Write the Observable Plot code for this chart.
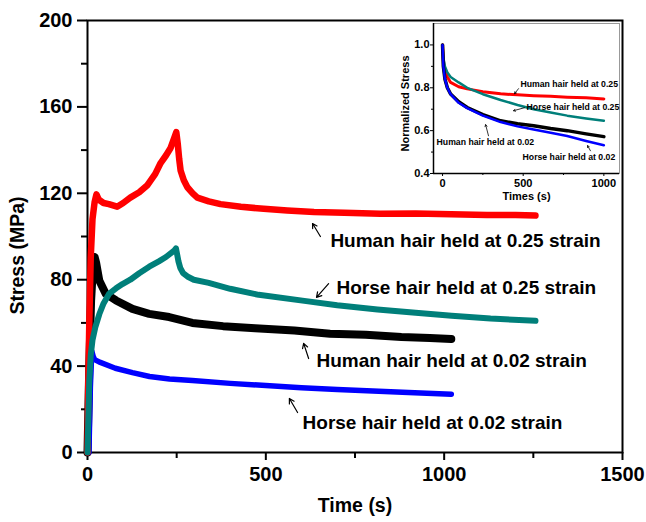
<!DOCTYPE html>
<html><head><meta charset="utf-8">
<script src="https://cdn.jsdelivr.net/npm/d3@7"></script>
<script src="https://cdn.jsdelivr.net/npm/@observablehq/plot@0.6"></script>
<style>
body{margin:0;background:#fff;}
#wrap{position:relative;width:646px;height:522px;}
#inset{position:absolute;left:395px;top:18px;}
</style></head><body><div id="wrap"><div id="main"></div><div id="inset"></div></div>
<script>
// ---------- main chart data: time (s) and stress (MPa) ----------
const humanHighT = [0,2,5,9,14,20,25,32,45,60,83,100,120,145,167,190,205,220,233,244,249,253,257,261,270,280,295,308,340,373,430,494,560,635,720,821,920,1020,1120,1200,1256];
const humanHighS = [0,30,60,90,108,116,119.5,117,115.5,115,113.8,115.5,118,120.5,123.6,129,134,137.5,141,146,148.3,143,136,130.6,126,122.8,120,118,116.3,115,113.8,112.8,112,111.3,111,110.5,110.6,110.3,110,110,109.7];

const horseHighT = [0,3,5,9,14,22,33,45,61,80,98,120,145,173,200,220,243,248,251,255,260,268,280,298,340,400,480,608,700,813,920,1021,1130,1256];
const horseHighS = [0,20,33,45,52,58,64,69,73.6,76,78,80,83,86,88.5,90.5,93.5,94.5,92,88.5,85.5,83,81.5,80,78.5,75.8,73,70.2,68.2,66.2,64.7,63.3,62,61];

const humanLowT = [0,5,10,15,20,24,33,51,80,126,173,229,294,380,470,580,680,780,880,960,1020];
const humanLowS = [0,40,70,85,90.5,88,79.6,73.5,70.4,66.5,64.2,62.7,60,58.5,57.5,56.5,55,54.5,53.5,53,52.5];

const horseLowT = [4,8,12,16,20,36,78,126,174,230,294,400,500,600,700,800,900,1020];
const horseLowS = [0,30,47,44.5,43,41.7,39,37,35.2,34,33.3,32,31,30,29.2,28.5,27.8,27];

const xMajor = [0,500,1000,1500];
const xMinor = [250,750,1250];
const yMajor = [0,40,80,120,160,200];
const yMinor = [20,60,100,140,180];

const mainLabels = ["Human hair held at 0.25 strain","Horse hair held at 0.25 strain","Human hair held at 0.02 strain","Horse hair held at 0.02 strain"];
const mainLabelT = [681,698,642,603];
const mainLabelS = [98,76.4,42.6,13.9];
const mainArrowFrom = [[653,100],[676,78.2],[620,43.5],[589,18.5]];
const mainArrowTo   = [[631,106],[642,71.8],[606,50.5],[566,25]];

// ---------- inset data: relaxation time (s) and normalized stress ----------
const insetT = [0,5,15,30,50,100,153,250,360,465,565,670,773,890,1000];
const insetHumanHigh = [1.0,0.93,0.88,0.85,0.825,0.805,0.795,0.782,0.772,0.767,0.763,0.76,0.756,0.753,0.748];
const insetHorseHigh = [1.0,0.94,0.9,0.872,0.85,0.825,0.80,0.77,0.743,0.72,0.70,0.685,0.67,0.657,0.646];
const insetHumanLow  = [1.0,0.9,0.84,0.8,0.771,0.735,0.708,0.675,0.646,0.632,0.623,0.61,0.60,0.585,0.572];
const insetHorseLow  = [1.0,0.9,0.84,0.8,0.77,0.73,0.705,0.67,0.64,0.62,0.605,0.59,0.575,0.552,0.532];
const insetXTicks = [0,500,1000];
const insetXMinor = [250,750];
const insetYTicks = [0.4,0.6,0.8,1.0];
const insetYMinor = [0.5,0.7,0.9];
const insetLabels = ["Human hair held at 0.25","Horse hair held at 0.25","Human hair held at 0.02","Horse hair held at 0.02"];
const insetLabelT = [483,521,-37,496];
const insetLabelS = [0.817,0.711,0.545,0.478];
const insetArrowFrom = [[471,0.796],[508,0.707],[285,0.576],[917,0.506]];
const insetArrowTo   = [[446,0.772],[440,0.693],[267,0.628],[899,0.53]];

const RED = "#ff0000", TEAL = "#007f7a", BLACK = "#000000", BLUE = "#0000ff";
const FONT = "'Liberation Sans', Arial, sans-serif";

const pts = (T, S) => T.map((t, i) => ({t, s: S[i]}));
const arrows = (F, T) => F.map((f, i) => ({x1: f[0], y1: f[1], x2: T[i][0], y2: T[i][1]}));
const labels = (L, T, S) => L.map((l, i) => ({label: l, t: T[i], s: S[i]}));
const empty = () => "";
const intFmt = d3.format("d");

const main = Plot.plot({
  width: 646, height: 522,
  marginLeft: 87, marginRight: 24, marginTop: 20, marginBottom: 70,
  style: {fontFamily: FONT, fontWeight: "bold", fontSize: "20px", color: "#000", background: "#fff", overflow: "visible"},
  x: {domain: [0, 1500]},
  y: {domain: [0, 200]},
  marks: [
    Plot.axisX({ticks: xMajor, tickSize: 8, tickPadding: 6, tickFormat: intFmt, label: null, fontSize: 20, fontWeight: "bold", strokeWidth: 2}),
    Plot.axisX({ticks: xMinor, tickSize: 6, tickFormat: empty, label: null, strokeWidth: 2}),
    Plot.axisY({ticks: yMajor, tickSize: 10, tickPadding: 5, tickFormat: intFmt, label: null, fontSize: 20, fontWeight: "bold", strokeWidth: 2}),
    Plot.axisY({ticks: yMinor, tickSize: 6, tickFormat: empty, label: null, strokeWidth: 2}),
    Plot.frame({stroke: "#000", strokeWidth: 2}),
    Plot.line(pts(humanLowT, humanLowS), {x: "t", y: "s", stroke: BLACK, strokeWidth: 8, strokeLinejoin: "round"}),
    Plot.line(pts(horseLowT, horseLowS), {x: "t", y: "s", stroke: BLUE, strokeWidth: 5.5, strokeLinejoin: "round"}),
    Plot.line(pts(humanHighT, humanHighS), {x: "t", y: "s", stroke: RED, strokeWidth: 6.5, strokeLinejoin: "round"}),
    Plot.line(pts(horseHighT, horseHighS), {x: "t", y: "s", stroke: TEAL, strokeWidth: 6, strokeLinejoin: "round"}),
    Plot.text(labels(mainLabels, mainLabelT, mainLabelS), {x: "t", y: "s", text: "label", textAnchor: "start", fontSize: 19, fontWeight: "bold", fill: "#000"}),
    Plot.arrow(arrows(mainArrowFrom, mainArrowTo), {x1: "x1", y1: "y1", x2: "x2", y2: "y2", stroke: "#000", strokeWidth: 1.2, headLength: 7}),
    Plot.text(["Stress (MPa)"], {frameAnchor: "left", textAnchor: "middle", dx: -70, dy: 19, rotate: -90, fontSize: 19.5, fontWeight: "bold", fill: "#000"}),
    Plot.text(["Time (s)"], {frameAnchor: "bottom", textAnchor: "middle", dy: 59, fontSize: 19.5, fontWeight: "bold", fill: "#000"})
  ]
});
document.getElementById("main").append(main);

const inset = Plot.plot({
  width: 230, height: 190,
  marginLeft: 38, marginRight: 6, marginTop: 5, marginBottom: 35,
  style: {fontFamily: FONT, fontWeight: "bold", fontSize: "11px", color: "#000", background: "transparent", overflow: "visible"},
  x: {domain: [-56, 1097]},
  y: {domain: [0.4, 1.1]},
  marks: [
    Plot.frame({stroke: "#999", strokeWidth: 1}),
    Plot.ruleX([-56], {stroke: "#000", strokeWidth: 1.5}),
    Plot.ruleY([0.4], {stroke: "#000", strokeWidth: 1.5}),
    Plot.axisX({ticks: insetXTicks, tickSize: 3, tickPadding: 3, tickFormat: intFmt, label: null, fontSize: 11, fontWeight: "bold"}),
    Plot.axisX({ticks: insetXMinor, tickSize: 2, tickFormat: empty, label: null}),
    Plot.axisY({ticks: insetYTicks, tickSize: 3, tickPadding: 1, tickFormat: d3.format(".1f"), label: null, fontSize: 11, fontWeight: "bold"}),
    Plot.axisY({ticks: insetYMinor, tickSize: 2, tickFormat: empty, label: null}),
    Plot.line(pts(insetT, insetHumanHigh), {x: "t", y: "s", stroke: RED, strokeWidth: 3}),
    Plot.line(pts(insetT, insetHorseHigh), {x: "t", y: "s", stroke: TEAL, strokeWidth: 2.5}),
    Plot.line(pts(insetT, insetHumanLow), {x: "t", y: "s", stroke: BLACK, strokeWidth: 3.5}),
    Plot.line(pts(insetT, insetHorseLow), {x: "t", y: "s", stroke: BLUE, strokeWidth: 2.5}),
    Plot.text(labels(insetLabels, insetLabelT, insetLabelS), {x: "t", y: "s", text: "label", textAnchor: "start", fontSize: 8.7, fontWeight: "bold", fill: "#000"}),
    Plot.arrow(arrows(insetArrowFrom, insetArrowTo), {x1: "x1", y1: "y1", x2: "x2", y2: "y2", stroke: "#000", strokeWidth: 0.8, headLength: 4}),
    Plot.text(["Normalized Stress"], {frameAnchor: "left", textAnchor: "middle", dx: -28, dy: 5, rotate: -90, fontSize: 11, fontWeight: "bold", fill: "#000"}),
    Plot.text(["Times (s)"], {frameAnchor: "bottom", textAnchor: "middle", dy: 26, fontSize: 11, fontWeight: "bold", fill: "#000"})
  ]
});
document.getElementById("inset").append(inset);
</script></body></html>
